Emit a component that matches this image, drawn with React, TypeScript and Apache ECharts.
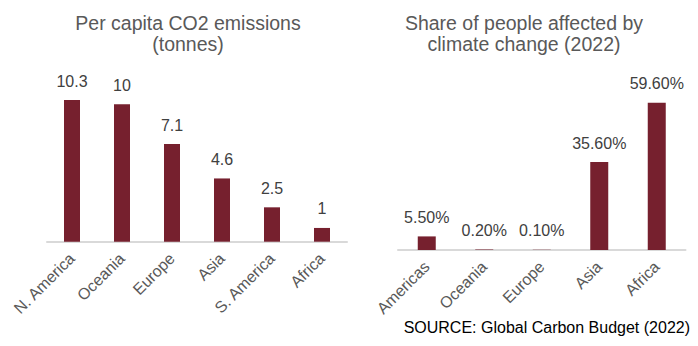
import React, { useEffect, useRef } from "react";
import * as echarts from "echarts";

const emissionRegions = ["N. America", "Oceania", "Europe", "Asia", "S. America", "Africa"];
const emissionValues = [10.3, 10, 7.1, 4.6, 2.5, 1];

const affectedRegions = ["Americas", "Oceania", "Europe", "Asia", "Africa"];
const affectedValues = [5.5, 0.2, 0.1, 35.6, 59.6];

const BAR = "#76202E";
const FONT = "'Liberation Sans', Arial, sans-serif";

export default function App() {
  const ref = useRef<HTMLDivElement>(null);
  useEffect(() => {
    if (!ref.current) return;
    const chart = echarts.init(ref.current, undefined, { renderer: "svg" });
    const axisLabel = {
      rotate: 45,
      color: "#595959",
      fontSize: 16,
      fontFamily: FONT,
      margin: 14,
      interval: 0,
    };
    const axisLine = { show: true, lineStyle: { color: "#D9D9D9", width: 2 } };
    const titleStyle = { fontSize: 19.5, fontWeight: "normal", color: "#595959", lineHeight: 21, fontFamily: FONT };
    chart.setOption({
      animation: false,
      textStyle: { fontFamily: FONT },
      title: [
        {
          text: "Per capita CO2 emissions\n(tonnes)",
          left: 183,
          top: 7,
          textAlign: "center",
          textStyle: titleStyle,
        },
        {
          text: "Share of people affected by\nclimate change (2022)",
          left: 519,
          top: 7,
          textAlign: "center",
          textStyle: titleStyle,
        },
      ],
      graphic: [
        {
          type: "text",
          right: 8,
          top: 319,
          style: { text: "SOURCE: Global Carbon Budget (2022)", fontSize: 16, fill: "#000", fontFamily: FONT },
        },
      ],
      grid: [
        { left: 47, right: 351, top: 76.7, bottom: 104.3 },
        { left: 398, right: 12.5, top: 77, bottom: 96 },
      ],
      xAxis: [
        {
          type: "category",
          gridIndex: 0,
          data: emissionRegions,
          axisLine,
          axisTick: { show: false },
          axisLabel,
        },
        {
          type: "category",
          gridIndex: 1,
          data: affectedRegions,
          axisLine,
          axisTick: { show: false },
          axisLabel,
        },
      ],
      yAxis: [
        { type: "value", gridIndex: 0, min: 0, max: 12, show: false, splitLine: { show: false } },
        { type: "value", gridIndex: 1, min: 0, max: 70, show: false, splitLine: { show: false } },
      ],
      series: [
        {
          type: "bar",
          xAxisIndex: 0,
          yAxisIndex: 0,
          data: emissionValues,
          barWidth: 16,
          itemStyle: { color: BAR },
          label: {
            show: true,
            position: "top",
            distance: 11,
            fontSize: 16,
            color: "#404040",
            fontFamily: FONT,
          },
        },
        {
          type: "bar",
          xAxisIndex: 1,
          yAxisIndex: 1,
          data: affectedValues,
          barWidth: 18,
          itemStyle: { color: BAR },
          label: {
            show: true,
            position: "top",
            distance: 11,
            fontSize: 16,
            color: "#404040",
            fontFamily: FONT,
            formatter: (p: any) => p.value.toFixed(2) + "%",
          },
        },
      ],
    });
    return () => chart.dispose();
  }, []);
  return (
    <div
      ref={ref}
      style={{ position: "fixed", left: 0, top: 0, width: 698, height: 346, background: "#fff" }}
    />
  );
}
